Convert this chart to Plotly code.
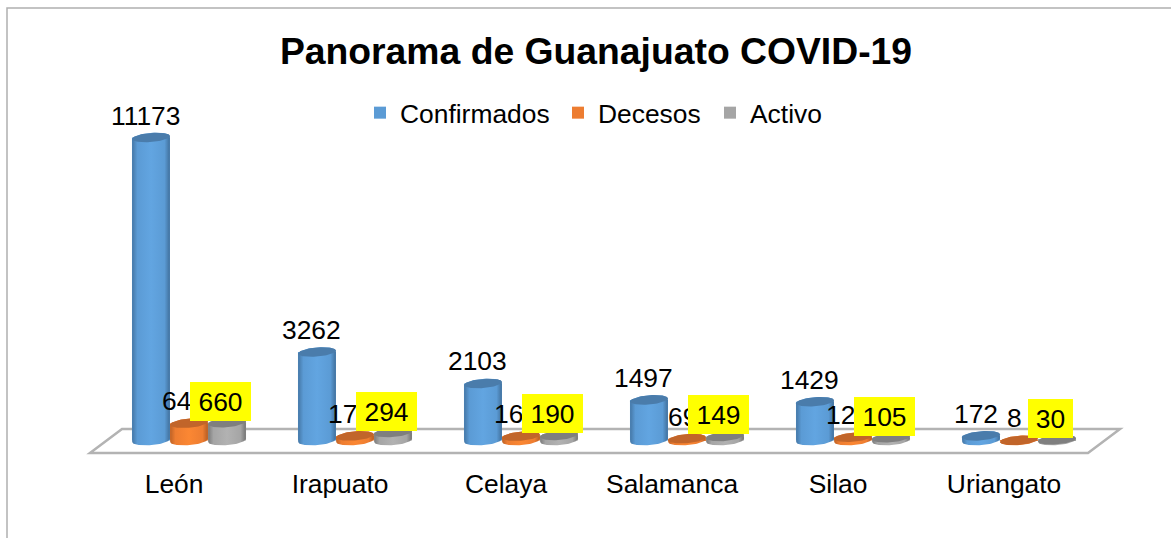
import math
import plotly.graph_objects as go

categories = ["León", "Irapuato", "Celaya", "Salamanca", "Silao", "Uriangato"]
confirmados = [11173, 3262, 2103, 1497, 1429, 172]
decesos = [640, 170, 160, 69, 120, 8]
decesos_labels = ["64", "17", "16", "69", "12", "8"]
activo = [660, 294, 190, 149, 105, 30]

W, H = 1171, 538
L, R, T, B = 90, 1120, 120, 460
PX_X = 166.0
PX_Y = 303 / 11173
Y0_PX = 440.5
X0_PX = 189
BW = 0.229
RX = 0.5 * BW * 0.99
RY = 4.6 / PX_Y
TILT = 1.5 / PX_Y

xr = [(L - X0_PX) / PX_X, (R - X0_PX) / PX_X]
yr = [(Y0_PX - B) / PX_Y, (Y0_PX - T) / PX_Y]


def px(x):
    return (x - L) / (R - L)


def py(y):
    return (B - y) / (B - T)


series = [
    ("Confirmados", confirmados, "#5b9bd5", "#4a7cab", ["#4577a6", "#5b9bd5", "#62a5e1", "#5b9bd5", "#41709c"]),
    ("Decesos", decesos, "#ed7d31", "#c1652a", ["#bd6226", "#ed7d31", "#fb8733", "#ed7d31", "#b55d24"]),
    ("Activo", activo, "#a5a5a5", "#7f7f7f", ["#7b7b7b", "#a5a5a5", "#b2b2b2", "#a5a5a5", "#747474"]),
]
STOP_POS = [0, 0.14, 0.5, 0.86, 1]
LEGENDS = ["legend", "legend2", "legend3"]
LEGEND_TEXT_X = [400, 598, 750]


def scale(stops):
    return [[p, c] for p, c in zip(STOP_POS, stops)]


def arc(cx, cy, a0, a1, n=40):
    xs, ys = [], []
    for k in range(n + 1):
        t = math.radians(a0 + (a1 - a0) * k / n)
        xs.append(cx + RX * math.cos(t))
        ys.append(cy + RY * math.sin(t) + TILT * math.cos(t))
    return xs, ys


fig = go.Figure()
for (name, vals, col, top, stops), lg in zip(series, LEGENDS):
    fig.add_trace(go.Bar(name=name, x=list(range(len(vals))), y=vals, legend=lg,
                         marker=dict(color=col, line_width=0)))

for s, (name, vals, col, top, stops) in enumerate(series):
    for i, v in enumerate(vals):
        cx = i + (s - 1) * BW
        bx, by = arc(cx, 0, 0, -180)
        bx = bx[::-1]; by = by[::-1]
        tx, ty = arc(cx, v, 0, 180)
        fig.add_trace(go.Scatter(
            x=bx + tx + [bx[0]], y=by + ty + [by[0]], mode="lines", line=dict(width=0),
            fill="toself", fillgradient=dict(type="horizontal", colorscale=scale(stops)),
            showlegend=False, hoverinfo="skip"))
        ex, ey = arc(cx, v, 0, 360, 72)
        fig.add_trace(go.Scatter(
            x=ex, y=ey, mode="lines", line=dict(width=0), fill="toself", fillcolor=top,
            showlegend=False, hoverinfo="skip"))

FS = 26.4
ann = []
for i, v in enumerate(confirmados):
    ann.append(dict(x=i - BW, y=v, text=str(v), showarrow=False, xshift=-5, yshift=22,
                    font=dict(size=FS, color="#000000")))
for i, (v, lab) in enumerate(zip(decesos, decesos_labels)):
    # the reference's third digit is hidden behind the yellow box, so the visible part is shifted left
    sh = -5 - (7.3 if v >= 100 else 0)
    ann.append(dict(x=i, y=v, text=lab, showarrow=False, xshift=sh, yshift=22,
                    font=dict(size=FS, color="#000000")))
for i, v in enumerate(activo):
    w = 61 if v >= 100 else 45
    ann.append(dict(x=i + BW, y=v, text=str(v), showarrow=False, xshift=-6.5, yshift=21.5, width=w, height=39,
                    bgcolor="#ffff00", borderpad=0, borderwidth=0, align="center", valign="middle",
                    font=dict(size=FS, color="#000000")))

floor = [(90, 453), (122, 429), (1120, 429), (1088, 453)]
path = "M " + " L ".join(f"{px(a):.5f} {py(b):.5f}" for a, b in floor) + " Z"
shapes = [
    dict(type="path", xref="paper", yref="paper", path=path, fillcolor="#ffffff",
         line=dict(color="#b3b3b3", width=2.5), layer="below"),
    dict(type="rect", xref="paper", yref="paper", x0=px(7), x1=px(1200), y0=py(8), y1=py(560),
         fillcolor="rgba(0,0,0,0)", line=dict(color="#b0b0b0", width=1.5), layer="below"),
]

legend_layout = {
    lg: dict(orientation="h", x=px(tx - 40), xanchor="left", y=py(113), yanchor="middle",
             font=dict(size=FS), bgcolor="rgba(0,0,0,0)")
    for lg, tx in zip(LEGENDS, LEGEND_TEXT_X)
}

fig.update_layout(
    width=W, height=H, margin=dict(l=L, r=W - R, t=T, b=H - B, pad=0),
    paper_bgcolor="#ffffff", plot_bgcolor="rgba(0,0,0,0)",
    font=dict(family="Liberation Sans, Arial, sans-serif", size=FS, color="#000000"),
    title=dict(text="<b>Panorama de Guanajuato COVID-19</b>", x=596 / W, xanchor="center", y=1 - 51 / H,
               yanchor="middle", font=dict(size=37.3, color="#000000")),
    barmode="group", bargap=1 - 3 * BW, bargroupgap=0,
    showlegend=True,
    xaxis=dict(range=xr, tickmode="array", tickvals=[i - 0.09 for i in range(len(categories))],
               ticktext=categories, showgrid=False, zeroline=False, showline=False, ticks="",
               tickfont=dict(size=FS, color="#000000"), ticklabelstandoff=6),
    yaxis=dict(range=yr, visible=False, showgrid=False, zeroline=False),
    annotations=ann, shapes=shapes, **legend_layout,
)
fig.write_html("out.html", config={"displayModeBar": False}, post_script="document.body.style.margin='0';")
